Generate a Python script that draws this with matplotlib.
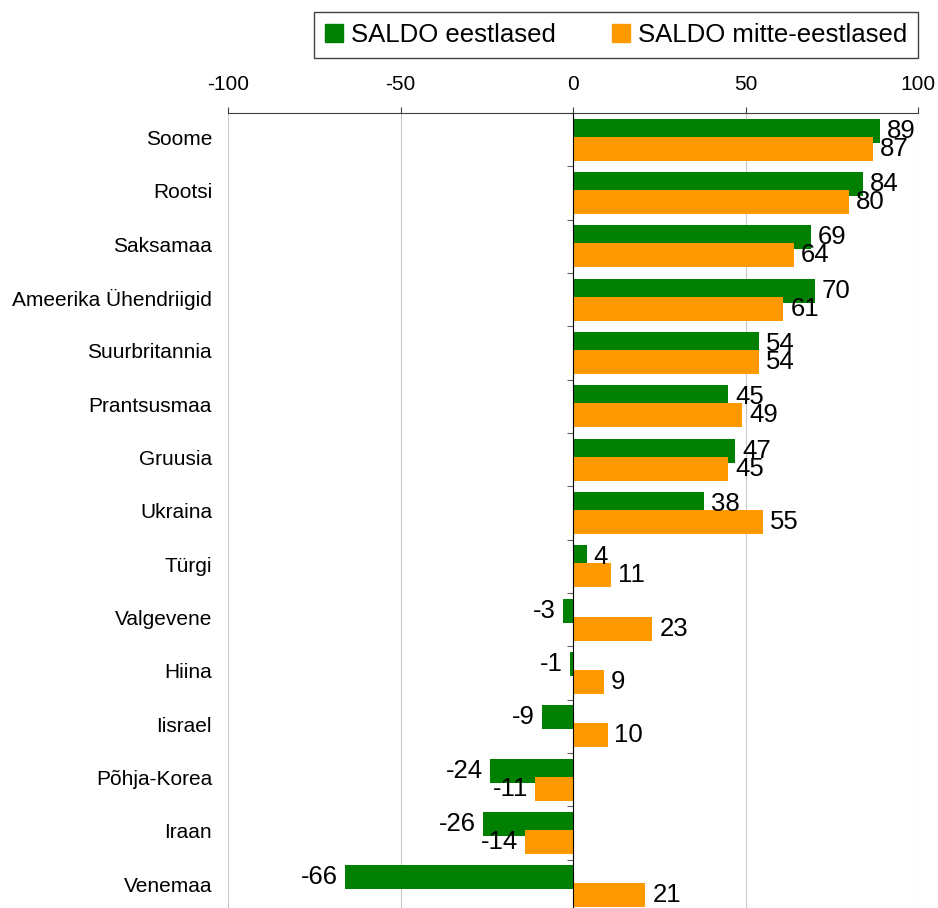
import matplotlib.pyplot as plt
import numpy as np
from matplotlib.patches import Patch

countries = ['Soome', 'Rootsi', 'Saksamaa', 'Ameerika Ühendriigid', 'Suurbritannia',
             'Prantsusmaa', 'Gruusia', 'Ukraina', 'Türgi', 'Valgevene', 'Hiina',
             'Iisrael', 'Põhja-Korea', 'Iraan', 'Venemaa']
eestlased = [89, 84, 69, 70, 54, 45, 47, 38, 4, -3, -1, -9, -24, -26, -66]
mitte_eestlased = [87, 80, 64, 61, 54, 49, 45, 55, 11, 23, 9, 10, -11, -14, 21]
series_names = ['SALDO eestlased', 'SALDO mitte-eestlased']

plt.rcParams['font.family'] = ['Liberation Sans', 'DejaVu Sans']
plt.rcParams['axes.unicode_minus'] = False

green = '#008000'
orange = '#ff9900'

fig = plt.figure(figsize=(9.38, 9.08), dpi=100)
ax = fig.add_axes([228/938, -5/908, 690/938, 800/908])

y = np.arange(len(countries))
h = 0.45
off = 0.17
ax.barh(y - off, eestlased, height=h, color=green, zorder=2)
ax.barh(y + off, mitte_eestlased, height=h, color=orange, zorder=3)

def put_labels(vals, ys):
    for v, yy in zip(vals, ys):
        ax.annotate(str(v), (v, yy), xytext=(5 if v >= 0 else -5, 0),
                    textcoords='offset points', ha='left' if v >= 0 else 'right',
                    va='center', fontsize=18.5, zorder=5)

put_labels(eestlased, y - off)
put_labels(mitte_eestlased, y + off)

ax.set_xlim(-100, 100)
ax.set_ylim(len(countries) - 0.5, -0.5)

ax.xaxis.tick_top()
ax.set_xticks([-100, -50, 0, 50, 100])
ax.tick_params(axis='x', direction='out', length=4, pad=10, labelsize=15, color='#404040')
ax.grid(axis='x', color='#c8c8c8', linewidth=0.8, zorder=0)

for s in ['right', 'bottom']:
    ax.spines[s].set_visible(False)
ax.spines['top'].set_color('#404040')
ax.spines['left'].set_position(('data', 0))
ax.spines['left'].set_zorder(6)

ax.set_yticks(np.arange(-0.5, len(countries), 1.0))
ax.set_yticklabels([])
ax.tick_params(axis='y', direction='out', length=4, color='#606060')

for yy, name in zip(y, countries):
    ax.text(-16/690, yy, name, transform=ax.get_yaxis_transform(),
            ha='right', va='center', fontsize=15)

handles = [Patch(color=green), Patch(color=orange)]
leg = fig.legend(handles, series_names, loc='upper right',
                 bbox_to_anchor=(918/938, 1 - 12/908), ncol=2, fontsize=18.5,
                 fancybox=False, framealpha=1, edgecolor='#404040',
                 handlelength=0.7, handleheight=0.7, handletextpad=0.3,
                 columnspacing=2.2, borderpad=0.42, borderaxespad=0)
leg.get_frame().set_linewidth(1.0)

fig.savefig('out.png', dpi=100)
